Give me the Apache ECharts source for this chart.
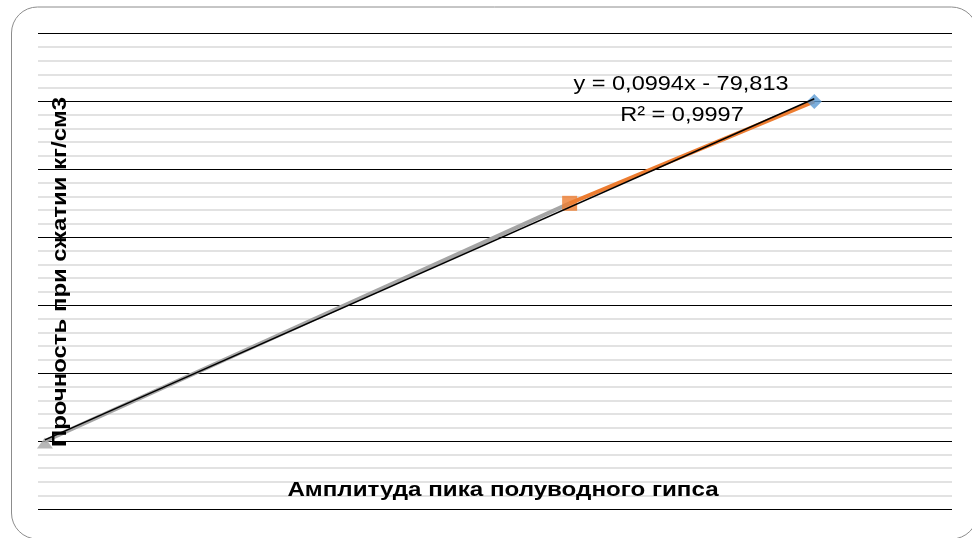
<!DOCTYPE html>
<html>
<head>
<meta charset="utf-8">
<script src="https://cdn.jsdelivr.net/npm/echarts@6/dist/echarts.min.js"></script>
<style>
html,body{margin:0;padding:0;background:#fff;}
#c{width:972px;height:538px;}
</style>
</head>
<body>
<div id="c"></div>
<script>
// Data
var blueX = [2000];
var blueY = [120];
var orangeX = [1682, 2000];
var orangeY = [90, 120];
var grayX = [1000, 1682];
var grayY = [20, 90];
var allX = [1000, 1682, 2000];
var allY = [20, 90, 120];
var equationText = 'y = 0,0994x - 79,813';
var r2Text = 'R² = 0,9997';
var xTitle = 'Амплитуда пика полуводного гипса';
var yTitle = 'Прочность при сжатии кг/см3';

// least-squares trendline from the data
function fit(xs, ys) {
  var n = xs.length, mx = 0, my = 0, sxy = 0, sxx = 0;
  for (var i = 0; i < n; i++) { mx += xs[i]; my += ys[i]; }
  mx /= n; my /= n;
  for (var j = 0; j < n; j++) { sxy += (xs[j]-mx)*(ys[j]-my); sxx += (xs[j]-mx)*(xs[j]-mx); }
  var b = sxy / sxx; return { slope: b, intercept: my - b*mx };
}
var f = fit(allX, allY);
var xMin = Math.min.apply(null, allX), xMax = Math.max.apply(null, allX);
var trend = [[xMin, f.slope*xMin + f.intercept], [xMax, f.slope*xMax + f.intercept]];

function pairs(xs, ys) { return xs.map(function (x, i) { return [x, ys[i]]; }); }

var chart = echarts.init(document.getElementById('c'));
var font = '"Liberation Sans", Arial, sans-serif';
chart.setOption({
  animation: false,
  grid: { left: 38, right: 20, top: 33.5, bottom: 29, containLabel: false },
  xAxis: {
    type: 'value', min: 991, max: 2179,
    axisLine: { show: false }, axisTick: { show: false }, axisLabel: { show: false },
    splitLine: { show: false }
  },
  yAxis: {
    type: 'value', min: 0, max: 140, interval: 20,
    axisLine: { show: false }, axisTick: { show: false }, axisLabel: { show: false },
    splitLine: { show: true, lineStyle: { color: '#000', width: 1 } },
    minorTick: { show: false, splitNumber: 5 },
    minorSplitLine: { show: true, lineStyle: { color: '#D9D9D9', width: 1.5 } }
  },
  series: [
    {
      type: 'line', data: pairs(grayX, grayY), z: 2,
      lineStyle: { color: '#A5A5A5', width: 4 },
      itemStyle: { color: '#A5A5A5' },
      symbol: 'none'
    },
    {
      type: 'line', data: pairs(orangeX, orangeY), z: 3,
      lineStyle: { color: '#ED7D31', width: 4 },
      itemStyle: { color: '#ED7D31' },
      symbol: 'none'
    },
    {
      type: 'scatter', data: [pairs(grayX, grayY)[0]], z: 4,
      symbol: 'triangle', symbolSize: [16, 11], symbolOffset: [0, 2], itemStyle: { color: '#A5A5A5' }
    },
    {
      type: 'scatter', data: [pairs(orangeX, orangeY)[0]], z: 4,
      symbol: 'rect', symbolSize: 15, itemStyle: { color: '#ED7D31' }
    },
    {
      type: 'scatter', data: pairs(blueX, blueY), z: 4,
      symbol: 'diamond', symbolSize: 15, itemStyle: { color: '#5B9BD5' }
    },
    {
      type: 'line', data: trend, z: 5, symbol: 'none',
      lineStyle: { color: '#000', width: 1.5 }
    }
  ],
  graphic: [
    {
      type: 'rect', left: 9, top: 4.5, z: -1, silent: true,
      shape: { width: 966, height: 532, r: 26 },
      style: { fill: 'none', stroke: '#8c8c8c', lineWidth: 1 }
    },
    {
      type: 'text', x: 681, y: 84, scaleX: 1.12, z: 10,
      style: { text: equationText, font: '21px ' + font, fill: '#000', align: 'center', verticalAlign: 'middle' }
    },
    {
      type: 'text', x: 682, y: 115, scaleX: 1.12, z: 10,
      style: { text: r2Text, font: '21px ' + font, fill: '#000', align: 'center', verticalAlign: 'middle' }
    },
    {
      type: 'text', x: 503, y: 490, scaleX: 1.15, z: 10,
      style: { text: xTitle, font: 'bold 21px ' + font, fill: '#000', align: 'center', verticalAlign: 'middle' }
    },
    {
      type: 'text', x: 60, y: 272, rotation: Math.PI/2, scaleX: 1.14, z: 10,
      style: { text: yTitle, font: 'bold 21px ' + font, fill: '#000', align: 'center', verticalAlign: 'middle' }
    }
  ]
});
</script>
</body>
</html>
